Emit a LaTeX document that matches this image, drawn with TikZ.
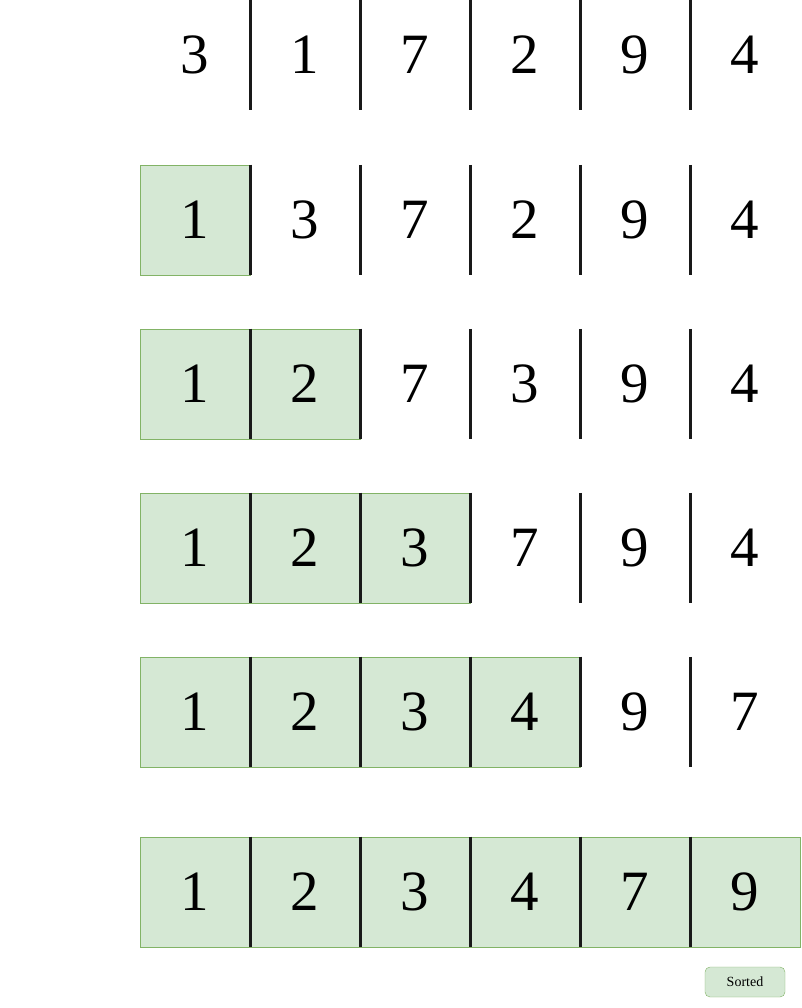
\documentclass[tikz,border=0pt]{standalone}
\usepackage{fontspec}
\setmainfont{Liberation Serif}
\usetikzlibrary{positioning}
\definecolor{doneFill}{HTML}{D5E8D4}
\definecolor{doneLine}{HTML}{82B366}
\tikzset{
  open/.style={minimum width=110pt,minimum height=110pt,inner sep=0pt,font=\fontsize{57}{60}\selectfont},
  done/.style={open,fill=doneFill,draw=doneLine,line width=0.8pt},
  sep/.style={line width=3pt,color=black!90},
  tag/.style={fill=doneFill,draw=doneLine,rounded corners=5pt,minimum width=80pt,minimum height=30pt,inner sep=0pt,font=\fontsize{14}{16}\selectfont}
}
\begin{document}
\begin{tikzpicture}[x=1pt,y=-1pt]
\useasboundingbox (0,0) rectangle (801,1008);
% one row per pass, the first \n cells are already in place
\foreach \top/\n/\vals [count=\r] in {0/0/{3,1,7,2,9,4},165/1/{1,3,7,2,9,4},329/2/{1,2,7,3,9,4},
    493/3/{1,2,3,7,9,4},657/4/{1,2,3,4,9,7},837/6/{1,2,3,4,7,9}}{
  \foreach \v [count=\i] in \vals {
    \ifnum\i>\n\def\kind{open}\else\def\kind{done}\fi
    \node[\kind] (cell\r-\i) at (85+110*\i,\top+55) {\v};
  }
  \foreach \i in {1,...,5}
    \draw[sep] (cell\r-\i.north east) -- (cell\r-\i.south east);
}
\node[tag] (sorted) at (745,982) {Sorted};
\end{tikzpicture}
\end{document}
